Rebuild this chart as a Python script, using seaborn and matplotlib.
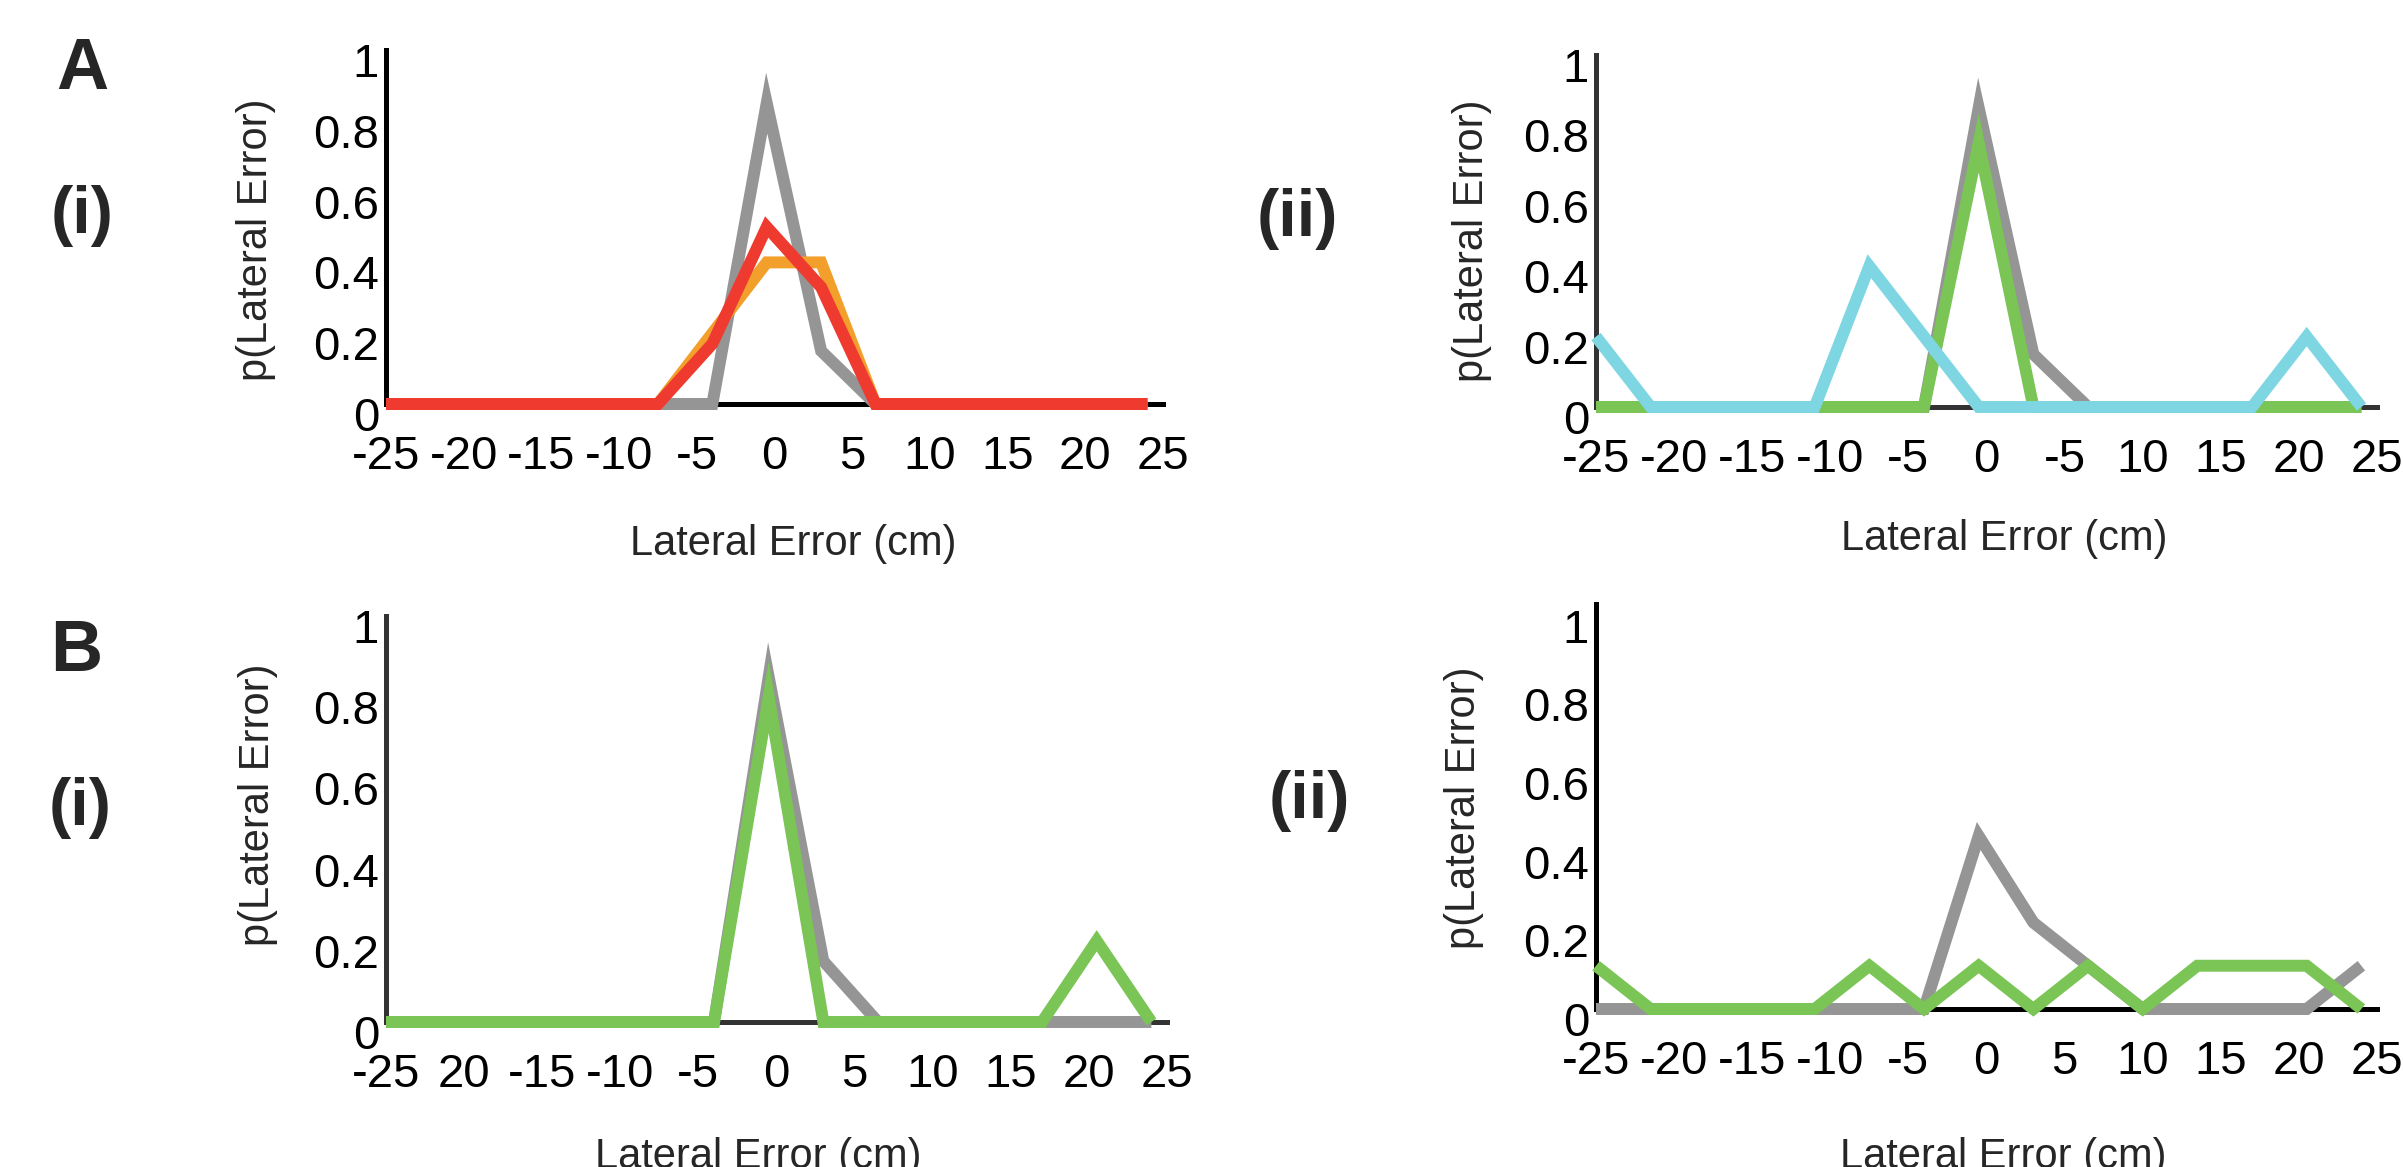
import numpy as np
import matplotlib
matplotlib.use("Agg")
import matplotlib.pyplot as plt
import matplotlib.transforms as mtransforms
import seaborn as sns

sns.set_style("white")
plt.rcParams['font.family'] = ['Liberation Sans', 'DejaVu Sans']

# bin centres of the lateral error histograms (cm)
bins = [-25, -21.5, -18, -14.5, -11, -7.5, -4, -0.5, 3, 6.5, 10, 13.5, 17, 20.5, 24]

# A (i)
gray_ai   = [0, 0, 0, 0, 0, 0, 0,    0.85, 0.15, 0, 0, 0, 0, 0, 0]
orange_ai = [0, 0, 0, 0, 0, 0, 0.2,  0.40, 0.40, 0, 0, 0, 0, 0, 0]
red_ai    = [0, 0, 0, 0, 0, 0, 0.17, 0.50, 0.33, 0, 0, 0, 0, 0, 0]
# A (ii)
gray_aii  = [0, 0, 0, 0, 0, 0, 0,   0.85, 0.15, 0, 0, 0, 0, 0, 0]
green_aii = [0, 0, 0, 0, 0, 0, 0,   0.75, 0,    0, 0, 0, 0, 0, 0]
cyan_aii  = [0.2, 0, 0, 0, 0, 0.4, 0.2, 0, 0, 0, 0, 0, 0, 0.2, 0]
# B (i)
gray_bi   = [0, 0, 0, 0, 0, 0, 0, 0.85, 0.15, 0, 0, 0, 0, 0, 0]
green_bi  = [0, 0, 0, 0, 0, 0, 0, 0.80, 0,    0, 0, 0, 0, 0.2, 0]
# B (ii)
gray_bii  = [0, 0, 0, 0, 0, 0, 0, 0.44, 0.22, 0.11, 0, 0, 0, 0, 0.11]
green_bii = [0.11, 0, 0, 0, 0, 0.11, 0, 0.11, 0, 0.11, 0, 0.11, 0.11, 0.11, 0]

xticks = [-25, -20, -15, -10, -5, 0, 5, 10, 15, 20, 25]
yticks = [0, 0.2, 0.4, 0.6, 0.8, 1]
# tick labels as printed in the figure (typos kept)
xlab_ai  = ["-25", "-20", "-15", "-10", "-5", "0", "5", "10", "15", "20", "25"]
xlab_aii = ["-25", "-20", "-15", "-10", "-5", "0", "-5", "10", "15", "20", "25"]
xlab_bi  = ["-25", "20", "-15", "-10", "-5", "0", "5", "10", "15", "20", "25"]
xlab_bii = ["-25", "-20", "-15", "-10", "-5", "0", "5", "10", "15", "20", "25"]
ylabs    = ["0", "0.2", "0.4", "0.6", "0.8", "1"]

GRAY = "#959595"
RED = "#EF3A30"
ORANGE = "#F29F2B"
GREEN = "#7AC555"
CYAN = "#7FD6E3"

W, H = 2403, 1167
fig = plt.figure(figsize=(W / 100, H / 100), dpi=100)


def make_ax(left, right, y0, y1, ytop, spine_col, xlabels):
    # positions given in pixels of the final picture
    ax = fig.add_axes([left / W, 1 - y0 / H, (right - left) / W, (y0 - y1) / H])
    ax.set_xlim(-25, 25)
    ax.set_ylim(0, ytop)
    sns.despine(ax=ax)
    for s in ["left", "bottom"]:
        ax.spines[s].set_linewidth(3.6)
        ax.spines[s].set_color(spine_col)
        ax.spines[s].set_zorder(1)
    ax.set_xticks(xticks)
    ax.set_xticklabels(xlabels)
    ax.set_yticks(yticks)
    ax.set_yticklabels(ylabs)
    ax.tick_params(axis="both", direction="in", length=7.5, width=3,
                   color=spine_col, labelsize=34, labelcolor="black")
    ax.tick_params(axis="x", pad=22)
    ax.tick_params(axis="y", pad=5)
    off = mtransforms.ScaledTranslation(0, -0.10, fig.dpi_scale_trans)
    for lab in ax.get_yticklabels():
        lab.set_transform(lab.get_transform() + off)
    ax.set_facecolor("none")
    return ax


def draw(ax, ys, col):
    sns.lineplot(x=bins, y=ys, ax=ax, color=col, lw=8.6, clip_on=False,
                 solid_joinstyle="miter", solid_capstyle="butt", zorder=3)


ax1 = make_ax(386, 1163, 404, 50, 1.0, "black", xlab_ai)
draw(ax1, gray_ai, GRAY)
draw(ax1, orange_ai, ORANGE)
draw(ax1, red_ai, RED)

ax2 = make_ax(1596, 2377, 407, 55, 1.0, "#333333", xlab_aii)
draw(ax2, gray_aii, GRAY)
draw(ax2, green_aii, GREEN)
draw(ax2, cyan_aii, CYAN)

ax3 = make_ax(386, 1167, 1022, 616, 1.0, "#333333", xlab_bi)
draw(ax3, gray_bi, GRAY)
draw(ax3, green_bi, GREEN)

ax4 = make_ax(1596, 2377, 1009, 604, 1.03, "black", xlab_bii)
draw(ax4, gray_bii, GRAY)
draw(ax4, green_bii, GREEN)


def ftext(x, y, s, **kw):
    fig.text(x / W, 1 - y / H, s, **kw)


# axis titles
for (x, y) in [(793, 555), (2004, 550), (758, 1168), (2003, 1168)]:
    ftext(x, y, "Lateral Error (cm)", ha="center", va="baseline", fontsize=30)
for (x, y) in [(256, 240), (1472, 241), (258, 805), (1464, 808)]:
    ftext(x, y, "p(Lateral Error)", ha="center", va="center", rotation=90, fontsize=30)

# panel labels
ftext(82, 70, "A", ha="center", va="center", fontsize=52, fontweight="bold")
ftext(76, 652, "B", ha="center", va="center", fontsize=52, fontweight="bold")
ftext(82, 216, "(i)", ha="center", va="center", fontsize=48, fontweight="bold")
ftext(1297, 219, "(ii)", ha="center", va="center", fontsize=48, fontweight="bold")
ftext(80, 808, "(i)", ha="center", va="center", fontsize=48, fontweight="bold")
ftext(1309, 801, "(ii)", ha="center", va="center", fontsize=48, fontweight="bold")

fig.savefig("out.png", dpi=100, facecolor="white")
